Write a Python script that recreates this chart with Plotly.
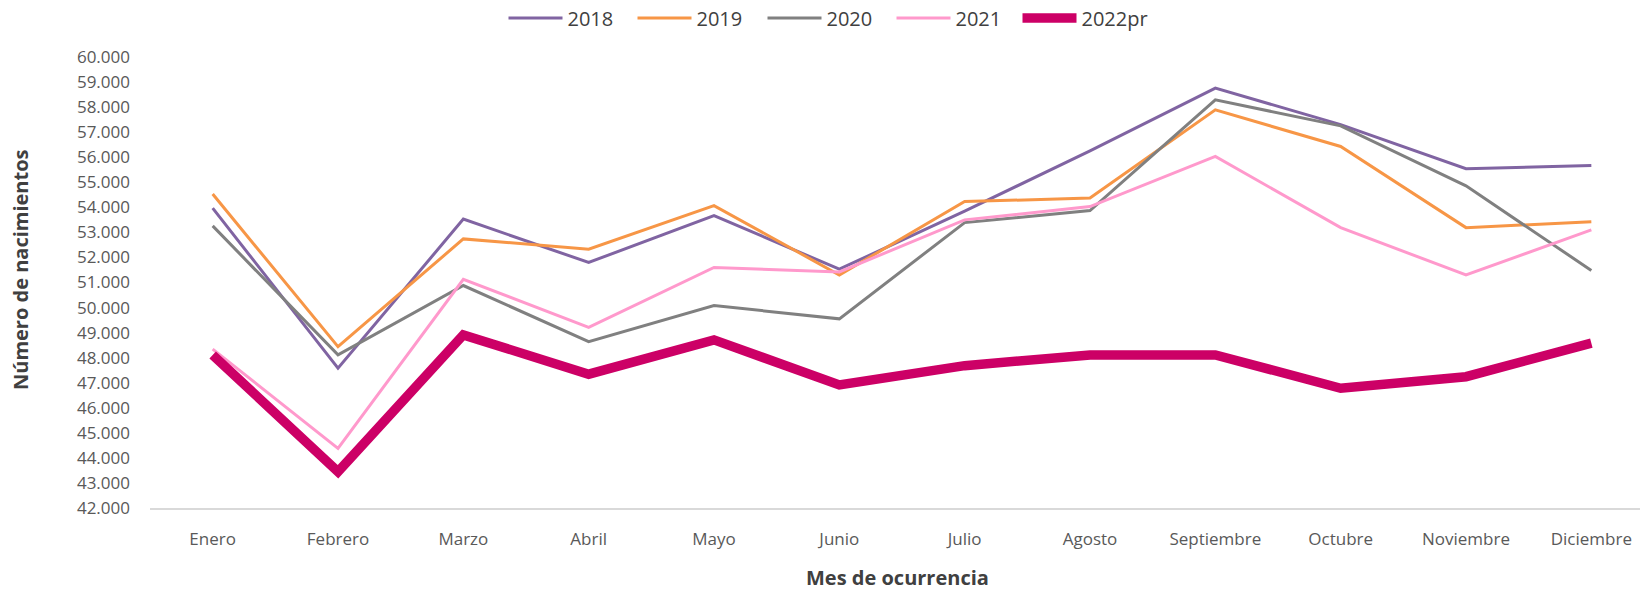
import plotly.graph_objects as go

months = ["Enero", "Febrero", "Marzo", "Abril", "Mayo", "Junio", "Julio",
          "Agosto", "Septiembre", "Octubre", "Noviembre", "Diciembre"]

y2018 = [53970, 47580, 53530, 51800, 53670, 51530, 53850, 56250, 58760, 57300, 55540, 55670]
y2019 = [54530, 48440, 52740, 52330, 54070, 51300, 54230, 54370, 57890, 56430, 53190, 53420]
y2020 = [53260, 48110, 50880, 48640, 50080, 49550, 53390, 53870, 58290, 57250, 54860, 51480]
y2021 = [48340, 44380, 51130, 49210, 51600, 51420, 53500, 54030, 56030, 53190, 51300, 53100]
y2022 = [48110, 43450, 48910, 47340, 48710, 46910, 47680, 48110, 48110, 46780, 47240, 48580]

series_names = ["2018", "2019", "2020", "2021", "2022pr"]
series_vals = [y2018, y2019, y2020, y2021, y2022]
colors = ["#8064A2", "#F79646", "#808080", "#FF99CC", "#CC0066"]
widths = [3, 3, 3, 3, 9.5]
legend_x = [508, 637, 767, 896, 1022]  # left edge of each legend line (px)

W, H = 1640, 593
font_family = "Open Sans, Noto Sans, sans-serif"

fig = go.Figure()
legend_layouts = {}
for i, (name, vals, c, w) in enumerate(zip(series_names, series_vals, colors, widths)):
    key = "legend" if i == 0 else f"legend{i + 1}"
    fig.add_trace(go.Scatter(x=months, y=vals, name=name, mode="lines",
                             line=dict(color=c, width=w, shape="linear"),
                             legend=key, hoverinfo="x+y+name"))
    legend_layouts[key] = dict(
        orientation="h", xref="container", x=(legend_x[i] - 4.5) / W, xanchor="left",
        yref="container", y=1 - 18 / H, yanchor="middle",
        font=dict(size=20, color="#404040", family=font_family),
        itemwidth=54, bgcolor="rgba(0,0,0,0)", borderwidth=0)

fig.update_layout(
    width=W, height=H,
    margin=dict(l=150, r=0, t=57, b=85),
    paper_bgcolor="white", plot_bgcolor="white",
    separators=",.",
    font=dict(family=font_family, size=17, color="#595959"),
    showlegend=True,
    xaxis=dict(type="category", range=[-0.5, 11.5 - 14 / 125.3],
               showline=True, linecolor="#D9D9D9", linewidth=1.5,
               showgrid=False, zeroline=False, ticks="",
               ticklabelstandoff=15,
               tickfont=dict(size=17, color="#595959")),
    yaxis=dict(range=[42000, 60000], dtick=1000, tick0=42000,
               tickformat=",d", showline=False, showgrid=False,
               zeroline=False, ticks="", ticklabelstandoff=19,
               tickfont=dict(size=17, color="#595959")),
    annotations=[
        dict(text="<b>Mes de ocurrencia</b>", xref="paper", yref="paper",
             x=(897 - 150) / 1490, y=-(577 - 508) / 451, xanchor="center", yanchor="middle",
             showarrow=False, borderpad=0,
             font=dict(size=20, color="#404040", family=font_family)),
        dict(text="<b>Número de nacimientos</b>", xref="paper", yref="paper",
             x=-(150 - 20) / 1490, y=(508 - 270) / 451, xanchor="center", yanchor="middle",
             textangle=-90, showarrow=False,
             font=dict(size=20, color="#404040", family=font_family)),
    ],
)
fig.update_layout(**legend_layouts)

fig.write_html("out.html", config={"displayModeBar": False},
               post_script="document.body.style.margin='0';document.body.style.overflow='hidden';")
